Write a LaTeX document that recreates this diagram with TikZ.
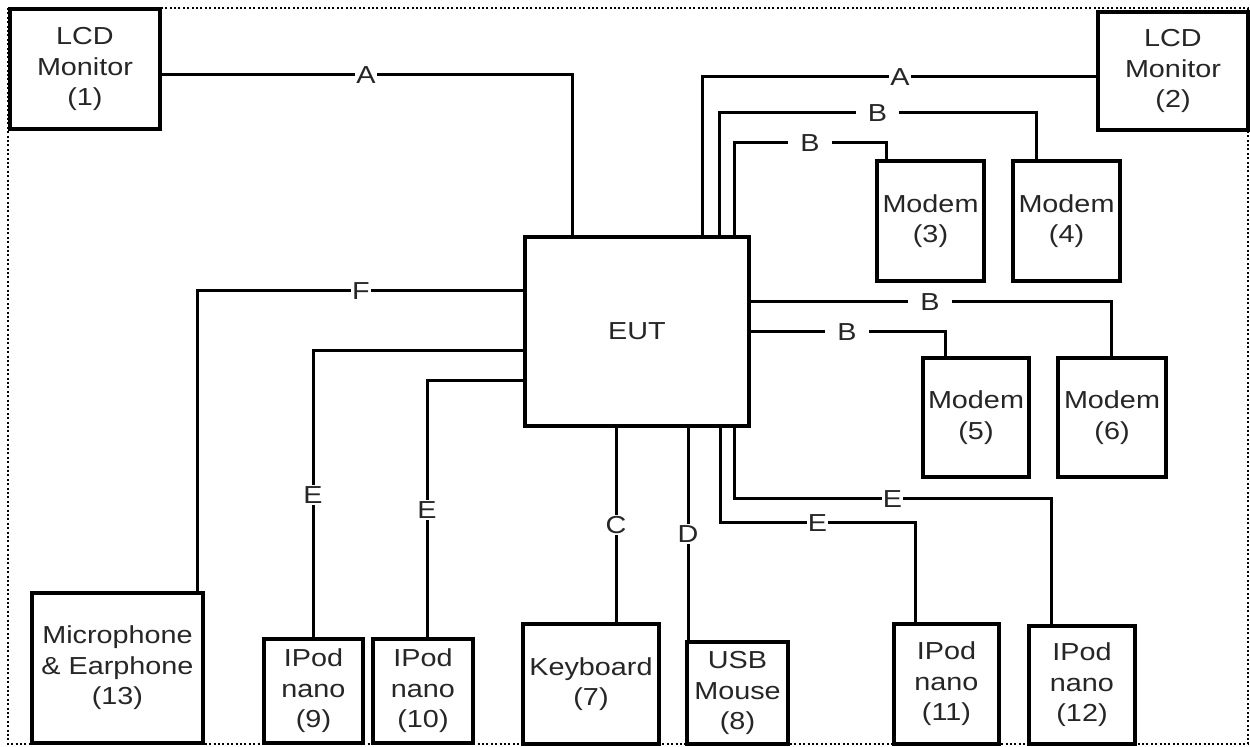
\documentclass[tikz,border=0pt]{standalone}
\usepackage{fontspec}
\setmainfont{Liberation Sans}[FakeStretch=1.17]
\usetikzlibrary{calc}
\begin{document}
\begin{tikzpicture}[x=0.5pt,y=-0.5pt,
  txt/.style={text=black!85, font=\fontsize{12.3}{15.3}\selectfont},
  box/.style={draw, line width=1.7pt, fill=white, align=center, inner sep=0pt, outer sep=0pt, txt},
  conn/.style={line width=1.5pt},
  lab/.style={fill=white, inner sep=0.6pt, txt},
  labB/.style={lab, inner xsep=6pt},
  frame/.style={line width=1.1pt, dash pattern=on 1pt off 1.2pt}
]
\fill[white] (0,0) rectangle (1250,747);
\useasboundingbox (0,0) rectangle (1250,747);
\draw[frame] (8,8) rectangle (1248,744);

% boxes
\node[box, minimum width=75pt, minimum height=60pt] (lcd1) at (85,69) {\raisebox{-1.5pt}{\parbox{70pt}{\centering LCD\\Monitor\\(1)}}};
\node[box, minimum width=75pt, minimum height=59pt] (lcd2) at (1173,71) {\raisebox{-1.5pt}{\parbox{70pt}{\centering LCD\\Monitor\\(2)}}};
\node[box, minimum width=53.5pt, minimum height=60pt] (m3) at (930.5,221) {Modem\\(3)};
\node[box, minimum width=53.5pt, minimum height=60pt] (m4) at (1066.5,221) {Modem\\(4)};
\node[box, minimum width=53pt, minimum height=59.5pt] (m5) at (976,417.5) {Modem\\(5)};
\node[box, minimum width=54pt, minimum height=59.5pt] (m6) at (1112,417.5) {Modem\\(6)};
\node[box, minimum width=112pt, minimum height=94.5pt] (eut) at (637,331.5) {EUT};
\node[box, minimum width=85.5pt, minimum height=75pt] (mic) at (117.5,668) {Microphone\\\& Earphone\\(13)};
\node[box, minimum width=49.5pt, minimum height=52pt] (ip9) at (313.5,691) {IPod\\nano\\(9)};
\node[box, minimum width=50pt, minimum height=52pt] (ip10) at (423,691) {IPod\\nano\\(10)};
\node[box, minimum width=68pt, minimum height=60pt] (kb) at (591,684) {Keyboard\\(7)};
\node[box, minimum width=50.5pt, minimum height=51pt] (ms) at (737.5,693) {USB\\Mouse\\(8)};
\node[box, minimum width=52.5pt, minimum height=60pt] (ip11) at (946.5,684) {IPod\\nano\\(11)};
\node[box, minimum width=53pt, minimum height=59pt] (ip12) at (1082,685) {IPod\\nano\\(12)};

% connectors
\draw[conn] ([yshift=-3pt]lcd1.east) -| node[lab,pos=0.25]{A} ($(eut.north west)+(47,0)$);
\draw[conn] ([yshift=-3pt]lcd2.west) -| node[lab,pos=0.25]{A} ($(eut.north west)+(177,0)$);
\draw[conn] ($(eut.north west)+(194,0)$) |- node[labB,pos=0.75]{B} ($(m4.north)+(-30.5,-48)$) -- ($(m4.north)+(-30.5,0)$);
\draw[conn] ($(eut.north west)+(209,0)$) |- node[labB,pos=0.75]{B} ($(m3.north)+(-44.5,-18)$) -- ($(m3.north)+(-44.5,0)$);
\draw[conn] ($(eut.north east)+(0,65)$) -| node[labB,pos=0.25]{B} ($(m6.north)+(-1,0)$);
\draw[conn] ($(eut.north east)+(0,95)$) -| node[labB,pos=0.25]{B} ($(m5.north)+(-31,0)$);
\draw[conn] ($(eut.north west)+(0,54)$) -| node[lab,pos=0.25]{F} ($(mic.north)+(79.5,0)$);
\draw[conn] ($(eut.north west)+(0,114)$) -| node[lab,pos=0.75]{E} ($(ip9.north)+(-0.5,0)$);
\draw[conn] ($(eut.north west)+(0,144)$) -| node[lab,pos=0.75]{E} ($(ip10.north)+(4,0)$);
\draw[conn] ($(eut.south west)+(91,0)$) -- node[lab]{C} ($(kb.north)+(25,0)$);
\draw[conn] ($(eut.south west)+(163,0)$) -- node[lab]{D} ($(ms.north)+(-49.5,0)$);
\draw[conn] ($(eut.south west)+(195,0)$) |- node[lab,pos=0.75]{E} ($(ip11.north)+(-31.5,-101)$) -- ($(ip11.north)+(-31.5,0)$);
\draw[conn] ($(eut.south west)+(209,0)$) |- node[lab,pos=0.75]{E} ($(ip12.north)+(-31,-127)$) -- ($(ip12.north)+(-31,0)$);
\end{tikzpicture}
\end{document}
